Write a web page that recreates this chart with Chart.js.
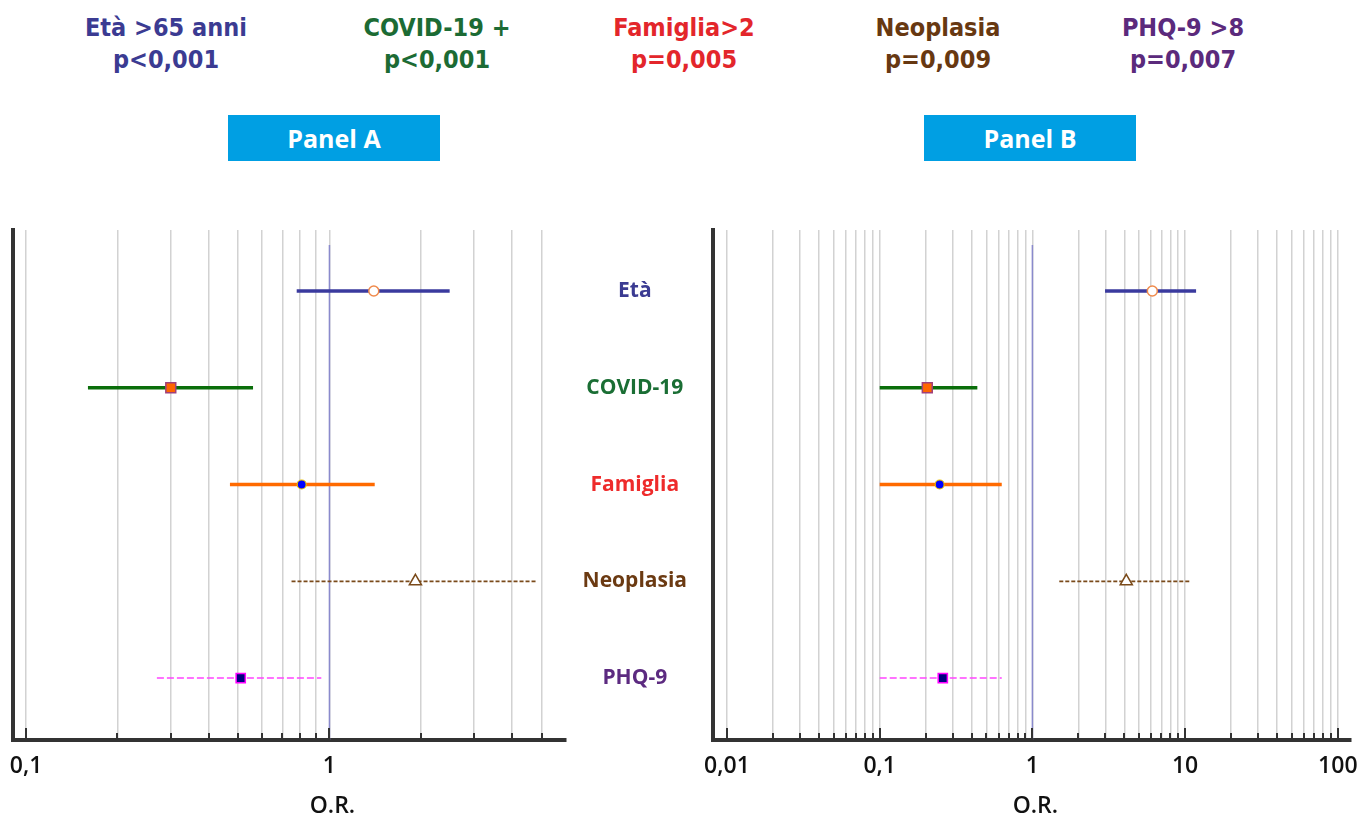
<!DOCTYPE html>
<html lang="it">
<head>
<meta charset="utf-8">
<title>O.R. Panel A / Panel B</title>
<script src="https://cdn.jsdelivr.net/npm/chart.js@4.4.1/dist/chart.umd.min.js"></script>
<style>
    html, body { margin: 0; padding: 0; background: #fff; }
    #page { position: relative; width: 1368px; height: 819px; overflow: hidden; font-family: 'Open Sans', sans-serif; }
    .head {
        position: absolute; top: 12px; width: 260px; margin-left: -130px; text-align: center;
        font-family: 'Liberation Sans Narrow', 'DejaVu Sans Condensed', sans-serif;
        font-weight: bold; font-size: 25px; line-height: 32px;
    }
    .panel {
        position: absolute; top: 115px; width: 212px; height: 46px; background: #009fe3;
        color: #fff; font-weight: 700; font-size: 25px; line-height: 46px; text-align: center;
    }
    canvas { position: absolute; top: 200px; }
</style>
</head>
<body>
<div id="page">
    <div id="header"></div>
    <div class="panel" style="left:228px">Panel A</div>
    <div class="panel" style="left:924px">Panel B</div>
    <canvas id="chartA" width="580" height="619" style="left:0"></canvas>
    <canvas id="chartB" width="798" height="619" style="left:570px"></canvas>
</div>
<script>
// righe del forest plot
const categories = ['Età', 'COVID-19', 'Famiglia', 'Neoplasia', 'PHQ-9'];

// Panel A
const orA   = [1.40, 0.30, 0.81, 1.92, 0.51];
const lowA  = [0.78, 0.16, 0.47, 0.75, 0.27];
const highA = [2.49, 0.56, 1.41, 4.85, 0.94];

// Panel B
const orB   = [6.10, 0.205, 0.247, 4.12, 0.259];
const lowB  = [2.99, 0.100, 0.100, 1.50, 0.100];
const highB = [11.8, 0.436, 0.630, 10.9, 0.630];

// assi
const decadesA = [0.1, 1];
const decadesB = [0.01, 0.1, 1, 10, 100];
const lastTickA = 5;
const lastTickB = 100;
const labelsA = [0.1, 1];
const labelsB = [0.01, 0.1, 1, 10, 100];

// intestazione
const headTitles = ['Età >65 anni', 'COVID-19 +', 'Famiglia>2', 'Neoplasia', 'PHQ-9 >8'];
const headP = ['p<0,001', 'p<0,001', 'p=0,005', 'p=0,009', 'p=0,007'];

const headColors = ['#3b3b92', '#1c6b34', '#e3262b', '#673811', '#5b2a7c'];
const rowColors = ['#3b3b92', '#1a6e34', '#ee2b2b', '#6b3a12', '#5c2a80'];
const headX = [166, 437, 684, 938, 1183];

const styles = [
    { line: '#3a3a9e', width: 3.5, dash: [], point: 'circle', radius: 5, fill: '#ffffff', stroke: '#f08a4b', bw: 1.5 },
    { line: '#0a6e0a', width: 3.5, dash: [], point: 'rect', radius: 7, fill: '#ff6600', stroke: '#a0407a', bw: 1.5 },
    { line: '#ff6a00', width: 3.5, dash: [], point: 'circle', radius: 4.5, fill: '#0000ff', stroke: '#e8c000', bw: 1.2 },
    { line: '#7a4a1a', width: 1.8, dash: [4, 2], point: 'triangle', radius: 7, fill: '#ffffff', stroke: '#7a4a1a', bw: 1.5 },
    { line: '#ff44ff', width: 1.5, dash: [7, 3], point: 'rect', radius: 6.5, fill: '#000080', stroke: '#ff00ff', bw: 1.5 }
];

document.getElementById('header').innerHTML = headTitles.map((t, i) => `
    <div class="head" style="left:${headX[i]}px;color:${headColors[i]}">${t}<br>${headP[i]}</div>
`).join('');

function buildTicks(decades, last) {
    const ticks = [];
    decades.forEach(d => {
        for (let s = 1; s <= 9; s++) {
            const v = +(s * d).toPrecision(3);
            if (v <= last) ticks.push({ value: v, major: s === 1 });
        }
    });
    return ticks;
}

const innerTicks = {
    id: 'innerTicks',
    afterDraw(chart) {
        const { ctx, chartArea } = chart;
        const x = chart.scales.x;
        ctx.save();
        ctx.strokeStyle = '#333';
        ctx.lineWidth = 2;
        x.ticks.forEach(t => {
            const px = Math.round(x.getPixelForValue(t.value));
            const len = t.major ? 12 : 7;
            ctx.beginPath();
            ctx.moveTo(px, chartArea.bottom);
            ctx.lineTo(px, chartArea.bottom - len);
            ctx.stroke();
        });
        ctx.fillStyle = '#111';
        ctx.font = '600 23px "Open Sans"';
        ctx.textAlign = 'center';
        ctx.textBaseline = 'middle';
        ctx.fillText('O.R.', x.getPixelForValue(1) + 3, chart.height - 13);
        ctx.restore();
    }
};

function makeDatasets(or, low, high) {
    const sets = [];
    categories.forEach((c, i) => {
        const st = styles[i];
        sets.push({
            label: c + ' IC',
            data: [{ x: low[i], y: i }, { x: high[i], y: i }],
            showLine: true, pointRadius: 0, borderColor: st.line, borderWidth: st.width,
            borderDash: st.dash, order: 2
        });
        sets.push({
            label: c,
            data: [{ x: or[i], y: i }],
            pointStyle: st.point, pointRadius: st.radius, backgroundColor: st.fill,
            borderColor: st.stroke, pointBorderWidth: st.bw, order: 1
        });
    });
    // linea di riferimento O.R. = 1
    sets.push({
        label: 'rif',
        data: [{ x: 1, y: -0.475 }, { x: 1, y: 4.64 }],
        showLine: true, pointRadius: 0, borderColor: '#8a8acc', borderWidth: 1.5, order: 3
    });
    return sets;
}

function makeChart(id, opt) {
    const gridTicks = buildTicks(opt.decades, opt.last);
    return new Chart(document.getElementById(id), {
        type: 'scatter',
        data: { datasets: makeDatasets(opt.or, opt.low, opt.high) },
        options: {
            responsive: false,
            animation: false,
            layout: { padding: { top: 30, right: opt.padRight, left: 0, bottom: 0 } },
            plugins: { legend: { display: false }, tooltip: { enabled: false } },
            scales: {
                x: {
                    type: 'logarithmic',
                    min: opt.min,
                    max: opt.max,
                    afterBuildTicks: s => { s.ticks = gridTicks.map(t => ({ ...t })); },
                    afterFit: s => { s.height = 79; s.paddingLeft = 0; s.paddingRight = 0; },
                    grid: { color: '#d2d2d2', lineWidth: 1.5, drawTicks: false },
                    border: { display: true, color: '#333', width: 4 },
                    ticks: {
                        autoSkip: false, maxRotation: 0, padding: 13, color: '#111',
                        font: { size: 23, weight: '600' },
                        callback: v => opt.labels.includes(v) ? String(v).replace('.', ',') : ''
                    }
                },
                y: {
                    type: 'linear',
                    reverse: true,
                    min: -0.63,
                    max: 4.64,
                    afterBuildTicks: s => { s.ticks = categories.map((c, i) => ({ value: i })); },
                    afterFit: s => { s.width = opt.yWidth; s.paddingTop = 0; s.paddingBottom = 0; },
                    grid: { display: false, drawTicks: false },
                    border: { display: true, color: '#333', width: 4 },
                    ticks: {
                        display: opt.showNames, autoSkip: false, padding: 26, crossAlign: 'center',
                        font: { size: 21, weight: 'bold' },
                        color: ctx => rowColors[ctx.index],
                        callback: v => categories[v]
                    }
                }
            }
        },
        plugins: [innerTicks]
    });
}

Chart.defaults.font.family = "'Open Sans', sans-serif";

makeChart('chartA', {
    or: orA, low: lowA, high: highA, decades: decadesA, last: lastTickA, labels: labelsA,
    min: 0.0906, max: 6.02, padRight: 14, yWidth: 13, showNames: false
});
makeChart('chartB', {
    or: orB, low: lowB, high: highB, decades: decadesB, last: lastTickB, labels: labelsB,
    min: 0.0081, max: 122, padRight: 17, yWidth: 143, showNames: true
});
</script>
</body>
</html>
